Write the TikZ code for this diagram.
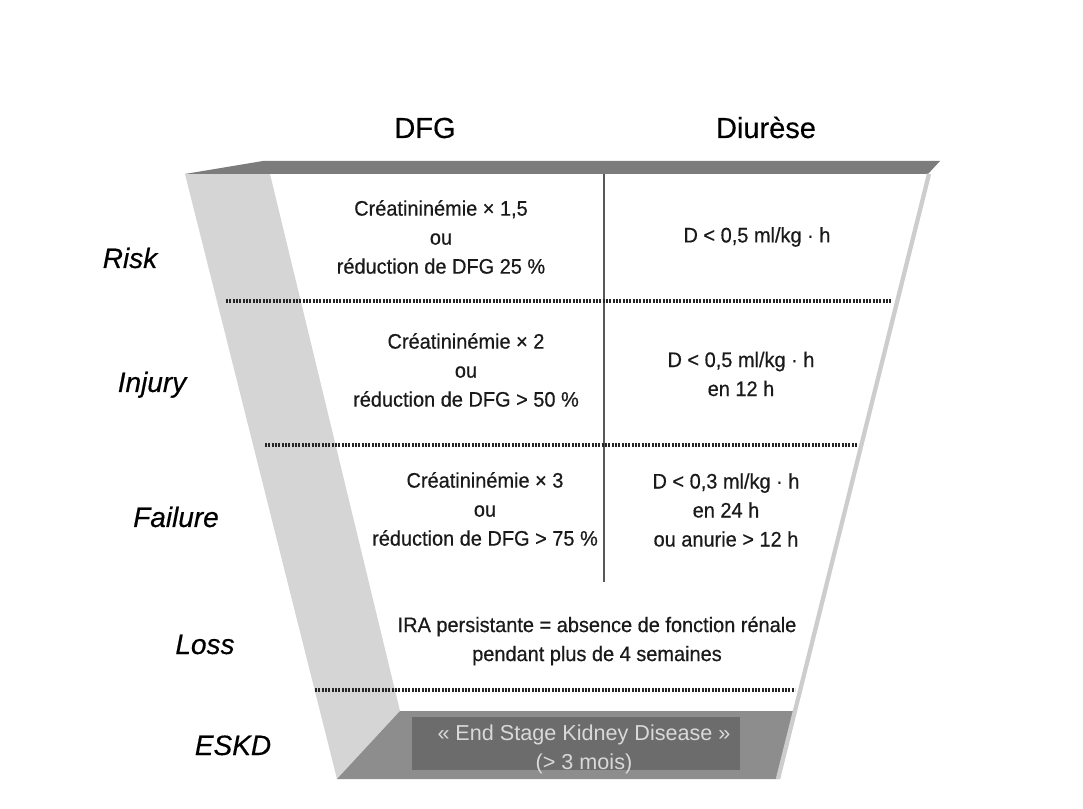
\documentclass[tikz,border=0pt]{standalone}
\usepackage{fontspec}
\setmainfont{Liberation Sans}
\newfontfamily\cellfont{Liberation Sans}[FakeStretch=0.95,FakeBold=0.5]
\newfontfamily\headfont{Liberation Sans}[FakeBold=0.4]
\definecolor{barc}{HTML}{7C7C7C}
\definecolor{bandc}{HTML}{D5D5D5}
\definecolor{floorc}{HTML}{8D8D8D}
\definecolor{eskdbox}{HTML}{6C6C6C}
\definecolor{eskdtext}{HTML}{D9D9D9}
\definecolor{ink}{HTML}{1A1A1A}
\definecolor{rimc}{HTML}{CDCDCD}
\begin{document}
\begin{tikzpicture}[x=0.75pt,y=-0.75pt,
  cell/.style={font=\cellfont\fontsize{15.75}{21.75}\selectfont, text=ink, align=center, inner sep=0pt},
  head/.style={font=\headfont\fontsize{21.75}{26}\selectfont, text=black, anchor=base, inner sep=0pt},
  stage/.style={font=\headfont\itshape\fontsize{21}{25}\selectfont, text=black, anchor=base, inner sep=0pt},
  eskdlabel/.style={font=\fontsize{16.2}{21.75}\selectfont, text=eskdtext, align=center, inner sep=0pt},
  sepline/.style={draw=black!85, line width=2.3pt, dash pattern=on 1.4pt off 1.1pt},
  colline/.style={draw=black!65, line width=1.4pt}]
\useasboundingbox (0,0) rectangle (1083,809);
\fill[white] (0,0) rectangle (1083,809);
% funnel shapes
\fill[bandc] (185,174) -- (270,174) -- (400,711) -- (337,779) -- cycle;
\fill[floorc] (400,711) -- (795,711) -- (778,779) -- (337,779) -- cycle;
\fill[eskdbox] (412,717) rectangle (740,770);
\fill[barc] (185,174) -- (263,161) -- (940,161) -- (928,174) -- cycle;
\coordinate (rimtop) at (929,174);
\coordinate (rimbot) at (778,779);
\draw[rimc, line width=3.2pt] (rimtop) -- (rimbot);
% column separator
\coordinate (coltop) at (604,174);
\coordinate (colbot) at (604,582);
\draw[colline] (coltop) -- (colbot);
% row separators
\coordinate (s1a) at (226,301); \coordinate (s1b) at (892,301);
\coordinate (s2a) at (265,445); \coordinate (s2b) at (857,445);
\coordinate (s3a) at (315,690); \coordinate (s3b) at (795,690);
\draw[sepline] (s1a) -- (s1b);
\draw[sepline] (s2a) -- (s2b);
\draw[sepline] (s3a) -- (s3b);
% headers
\node[head] (hdfg) at (425,138) {DFG};
\node[head] (hdiu) at (766,138) {Diurèse};
% stage labels
\node[stage] (lrisk) at (130,268) {Risk};
\node[stage] (linj) at (152,392) {Injury};
\node[stage] (lfail) at (176,527) {Failure};
\node[stage] (lloss) at (205,654) {Loss};
\node[stage] (leskd) at (233,755) {ESKD};
% cells
\node[cell] (rdfg) at (441,237) {Créatininémie × 1,5\\ou\\réduction de DFG 25 \%};
\node[cell] (rdiu) at (757,237) {D < 0,5 ml/kg · h};
\node[cell] (idfg) at (466,370) {Créatininémie × 2\\ou\\réduction de DFG > 50 \%};
\node[cell] (idiu) at (741,374) {D < 0,5 ml/kg · h\\en 12 h};
\node[cell] (fdfg) at (485,509) {Créatininémie × 3\\ou\\réduction de DFG > 75 \%};
\node[cell] (fdiu) at (726,510) {D < 0,3 ml/kg · h\\en 24 h\\ou anurie > 12 h};
\node[cell] (loss) at (597,641) {IRA persistante = absence de fonction rénale\\pendant plus de 4 semaines};
\node[eskdlabel] (eskd) at (584,749) {«~End Stage Kidney Disease~»\\(> 3 mois)};
\end{tikzpicture}
\end{document}
